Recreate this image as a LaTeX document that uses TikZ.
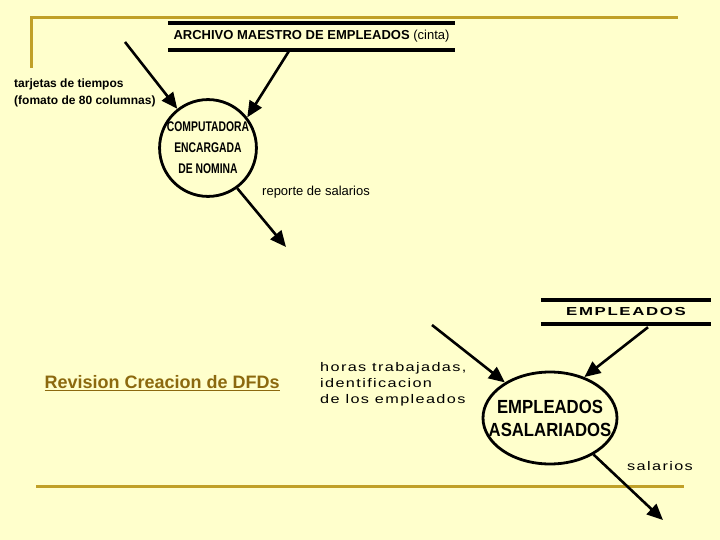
\documentclass[tikz,border=0pt]{standalone}
\usepackage{fontspec}
\setmainfont{Liberation Sans}
\newfontfamily\narrowfont[FakeStretch=0.74]{Liberation Sans}
\newfontfamily\bubblefont[FakeStretch=0.88]{Liberation Sans}
\newfontfamily\spacedfont[FakeStretch=1.3, LetterSpace=11]{Liberation Sans}
\newfontfamily\widefont[FakeStretch=1.45, LetterSpace=14]{Liberation Sans}
\usetikzlibrary{arrows.meta, shapes.geometric, calc}
\definecolor{slideY}{RGB}{255,255,204}
\definecolor{ruleG}{RGB}{192,160,40}
\definecolor{linkB}{RGB}{140,105,15}
\tikzset{
  flow/.style={line width=2.6pt, -{Triangle[length=16pt, width=14pt]}},
  storeline/.style={line width=3.5pt},
  procC/.style={circle, draw, line width=2.8pt, minimum size=96pt, inner sep=0pt, align=center},
  procE/.style={ellipse, draw, line width=2.8pt, minimum width=134pt, minimum height=92pt, inner xsep=-18pt, inner ysep=0pt, align=center},
  rule/.style={ruleG, line width=3pt}
}

\begin{document}
\begin{tikzpicture}[x=1pt, y=-1pt]
% ======== slide background ========
\fill[slideY] (0,0) rectangle (720,540);
\useasboundingbox (0,0) rectangle (720,540);
\draw[rule] (31,68) -- (31,18) -- (678,18);
\draw[rule] (36,486) -- (684,486);
\node[anchor=west, font=\bfseries\fontsize{18}{21}\selectfont, text=linkB] (revision) at (41,383) {\underline{Revision Creacion de DFDs}};
% ======== TOP: nomina ========
\node[minimum width=287pt, minimum height=27pt, inner sep=0pt, font=\fontsize{13}{15}\selectfont] (archivo) at (311.5,36.5) {\textbf{ARCHIVO MAESTRO DE EMPLEADOS} (cinta)};
\draw[storeline] (archivo.north west) -- (archivo.north east);
\draw[storeline] (archivo.south west) -- (archivo.south east);
\node[procC, font=\narrowfont\bfseries\fontsize{14}{21}\selectfont] (nomina) at (208,148) {COMPUTADORA\\ENCARGADA\\DE NOMINA};
\node[anchor=north west, align=left, inner sep=0pt, font=\bfseries\fontsize{12}{17}\selectfont] (tarjetas) at (14,79) {tarjetas de tiempos\\(fomato de 80 columnas)};
\node[anchor=west, inner sep=0pt, font=\fontsize{13}{15}\selectfont] (reporte) at (262,192) {reporte de salarios};
\coordinate (tarjIn) at (125,42);
\coordinate (reporteOut) at (286,247);
\draw[flow] (tarjIn) -- (nomina);
\draw[flow] ($(archivo.south)+(-22,0)$) -- (nomina.38);
\draw[flow] (nomina.-54) -- (reporteOut);
% ======== BOTTOM: asalariados ========
\node[minimum width=170pt, minimum height=24pt, inner sep=0pt, font=\widefont\bfseries\fontsize{11.6}{14}\selectfont] (empleados) at (626,312) {EMPLEADOS};
\draw[storeline] (empleados.north west) -- (empleados.north east);
\draw[storeline] (empleados.south west) -- (empleados.south east);
\node[procE, font=\bubblefont\bfseries\fontsize{19}{23}\selectfont] (asal) at (550,418) {EMPLEADOS\\ASALARIADOS};
\node[anchor=north west, align=left, inner sep=0pt, font=\spacedfont\fontsize{12.5}{16}\selectfont] (horas) at (320,362) {horas trabajadas,\\identificacion\\de los empleados};
\node[anchor=west, inner sep=0pt, font=\spacedfont\fontsize{12.5}{15}\selectfont] (salarios) at (627,466) {salarios};
\coordinate (horasIn) at (432,325);
\coordinate (salariosOut) at (663,520);
\draw[flow] (horasIn) -- (asal);
\draw[flow] ($(empleados.south)+(22,3)$) -- (asal.50);
\draw[flow] (asal.-40) -- (salariosOut);
\end{tikzpicture}
\end{document}
